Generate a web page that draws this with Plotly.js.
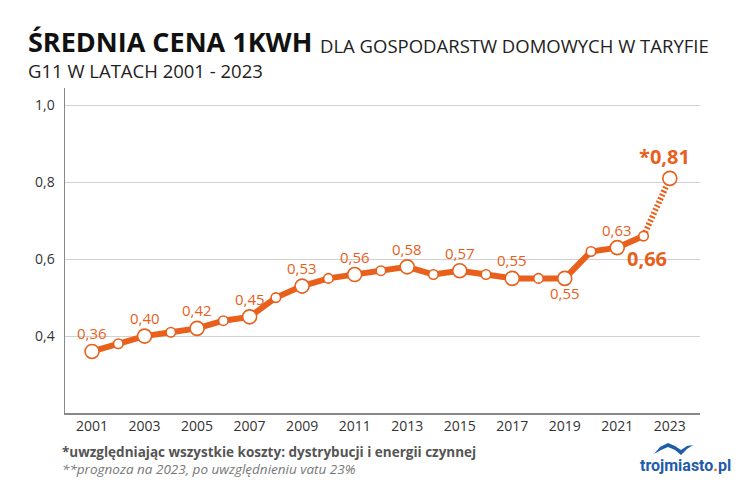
<!DOCTYPE html>
<html>
<head>
<meta charset="utf-8">
<script src="https://cdn.plot.ly/plotly-3.0.1.min.js"></script>
<style>html,body{margin:0;padding:0;background:#fff}#chart{width:750px;height:485px}</style>
</head>
<body>
<div id="chart"></div>
<script>
// ---- data ----
const years  = [2001,2002,2003,2004,2005,2006,2007,2008,2009,2010,2011,2012,2013,2014,2015,2016,2017,2018,2019,2020,2021,2022,2023];
const values = [0.36,0.38,0.40,0.41,0.42,0.44,0.45,0.50,0.53,0.55,0.56,0.57,0.58,0.56,0.57,0.56,0.55,0.55,0.55,0.62,0.63,0.66,0.81];
const labelYears = [2001,2003,2005,2007,2009,2011,2013,2015,2017,2019,2021,2022,2023];
const xTickVals = [2001,2003,2005,2007,2009,2011,2013,2015,2017,2019,2021,2023];
const yTickVals = [0.4,0.6,0.8,1.0];
const yTickText = ['0,4','0,6','0,8','1,0'];
const titleBold = 'ŚREDNIA CENA 1KWH';
const titleRest = 'DLA GOSPODARSTW DOMOWYCH W TARYFIE';
const titleLine2 = 'G11 W LATACH 2001 - 2023';
const note1 = '*uwzględniając wszystkie koszty: dystrybucji i energii czynnej';
const note2 = '**prognoza na 2023, po uwzględnieniu vatu 23%';

const ORANGE = '#E8601C';
const FONT = 'Open Sans, sans-serif';

const lastSolid = years.indexOf(2022);
const solidX = years.slice(0, lastSolid + 1), solidY = values.slice(0, lastSolid + 1);
const dotX = years.slice(lastSolid), dotY = values.slice(lastSolid);

const fmt = v => v.toFixed(2).replace('.', ',');

const traces = [
  {x: solidX, y: solidY, mode: 'lines', line: {color: ORANGE, width: 6}, hoverinfo: 'skip'},
  {x: dotX, y: dotY, mode: 'lines', line: {color: ORANGE, width: 6, dash: '2px,2px'}, hoverinfo: 'skip'},
  {x: years, y: values, mode: 'markers',
   marker: {color: '#fff', opacity: 1, size: years.map(y => (y % 2 === 1) ? 14 : 9.5), line: {color: ORANGE, width: 1.6}},
   hoverinfo: 'x+y'}
];

const annotations = [];
labelYears.forEach(yr => {
  const i = years.indexOf(yr);
  const v = values[i];
  let a = {x: yr, y: v, xref: 'x', yref: 'y', text: fmt(v), showarrow: false,
           font: {family: FONT, size: 15, color: ORANGE}, yanchor: 'middle', yshift: 18};
  if (yr === 2019) { a.yshift = -15; }
  if (yr === 2022) { a.text = '<b>' + fmt(v) + '</b>'; a.font.size = 20; a.yshift = -22; a.xshift = 3; }
  if (yr === 2023) { a.text = '<b>*' + fmt(v) + '</b>'; a.font.size = 20; a.yshift = 22; a.xshift = -5; }
  annotations.push(a);
});

// titles and notes (paper coords: plot area x 65..700, y 88..413)
const px = p => (p - 65) / 635;
const py = p => (413 - p) / 325;
annotations.push(
  {xref: 'paper', yref: 'paper', x: px(26), y: py(42), xanchor: 'left', yanchor: 'middle', showarrow: false,
   text: '<b>' + titleBold + '</b>', font: {family: FONT, size: 27, color: '#111'}},
  {xref: 'paper', yref: 'paper', x: px(318), y: py(45), xanchor: 'left', yanchor: 'middle', showarrow: false,
   text: titleRest, font: {family: FONT, size: 18.5, color: '#222'}},
  {xref: 'paper', yref: 'paper', x: px(26), y: py(70), xanchor: 'left', yanchor: 'middle', showarrow: false,
   text: titleLine2, font: {family: FONT, size: 18.5, color: '#222'}},
  {xref: 'paper', yref: 'paper', x: px(60), y: py(452), xanchor: 'left', yanchor: 'middle', showarrow: false,
   text: '<b>' + note1 + '</b>', font: {family: FONT, size: 13.5, color: '#555'}},
  {xref: 'paper', yref: 'paper', x: px(60), y: py(469), xanchor: 'left', yanchor: 'middle', showarrow: false,
   text: '<i>' + note2 + '</i>', font: {family: FONT, size: 13.5, color: '#777'}},
  {xref: 'paper', yref: 'paper', x: px(685), y: py(465), xanchor: 'center', yanchor: 'middle', showarrow: false,
   text: '<b>trojmiasto<span style="color:' + ORANGE + '">.</span>pl</b>', font: {family: 'Roboto, sans-serif', size: 16, color: '#1E5DA8'}}
);

// bird logo
const bird = [[654,454],[660,447],[668,443],[675,446],[681,450],[687,446],[693,445],[687,449],[681,455],[675,450],[668,447],[661,450]];
const birdPath = 'M ' + bird.map(p => px(p[0]).toFixed(5) + ',' + py(p[1]).toFixed(5)).join(' L ') + ' Z';

const layout = {
  width: 750, height: 485,
  margin: {l: 65, r: 50, t: 88, b: 72},
  paper_bgcolor: '#fff', plot_bgcolor: '#fff',
  showlegend: false,
  separators: ', ',
  font: {family: FONT, color: '#444'},
  xaxis: {range: [1999.97, 2024.15], tickvals: xTickVals, ticktext: xTickVals.map(String),
          showgrid: false, zeroline: false, showline: true, linecolor: '#888', linewidth: 1.5,
          ticks: '', tickfont: {family: FONT, size: 14, color: '#333'}, ticklabelstandoff: 0},
  yaxis: {range: [0.2, 1.045], tickvals: yTickVals, ticktext: yTickText,
          showgrid: true, gridcolor: '#d0d0d0', gridwidth: 1, zeroline: false,
          showline: true, linecolor: '#888', linewidth: 1.5, ticks: '',
          tickfont: {family: FONT, size: 14, color: '#333'}, ticklabelstandoff: 6},
  annotations: annotations,
  shapes: [{type: 'path', xref: 'paper', yref: 'paper', path: birdPath, fillcolor: '#1E5DA8', line: {width: 0}}]
};

Plotly.newPlot('chart', traces, layout, {displayModeBar: false, staticPlot: true});
</script>
</body>
</html>
